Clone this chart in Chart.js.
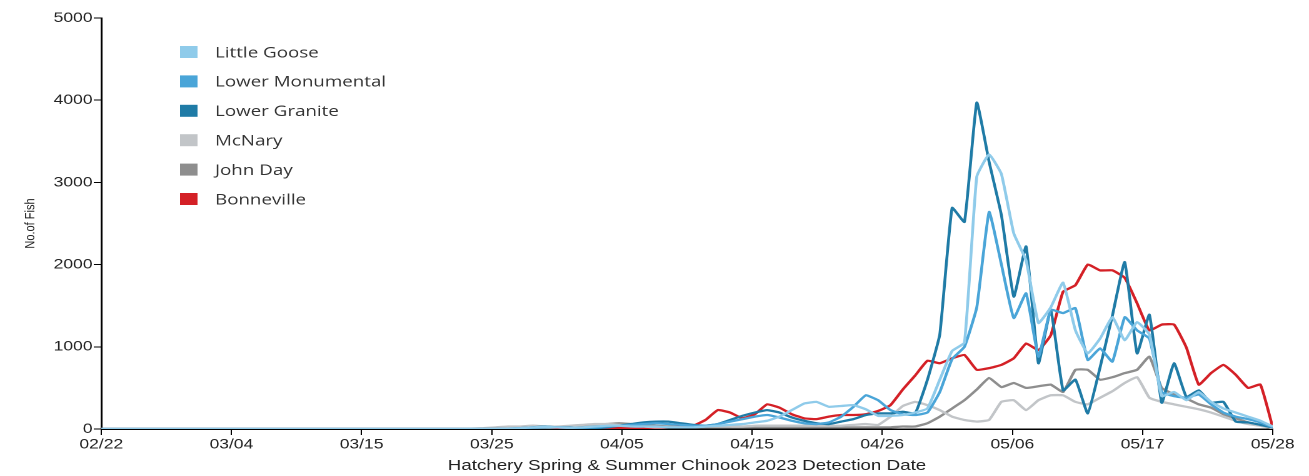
<!DOCTYPE html>
<html>
<head>
<meta charset="utf-8">
<title>Hatchery Spring &amp; Summer Chinook 2023</title>
<script src="https://cdn.jsdelivr.net/npm/chart.js@4.4.0/dist/chart.umd.min.js"></script>
<style>
    html, body { margin: 0; padding: 0; background: #fff; overflow: hidden; }
    /* the source picture is stretched sideways, so the chart is drawn narrow and widened */
    #wrap { width: 1047px; height: 476px; transform: scaleX(1.2502); transform-origin: 0 0; }
</style>
</head>
<body>
<div id="wrap"><canvas id="chinookChart" width="1047" height="476"></canvas></div>
<script>
// days since 02/22/2023, one value per day up to 05/28
const tickLabels = ['02/22', '03/04', '03/15', '03/25', '04/05', '04/15', '04/26', '05/06', '05/17', '05/28'];
const lastDay = 95;

const seriesNames = ['Little Goose', 'Lower Monumental', 'Lower Granite', 'McNary', 'John Day', 'Bonneville'];
const seriesColors = ['#8fcbea', '#4aa5d8', '#1f7ba6', '#c2c5c8', '#8e8e8e', '#d42026'];

const littleGoose = [
    0, 0, 0, 0, 0, 0, 0, 0, 0, 0,
    0, 0, 0, 0, 0, 0, 0, 0, 0, 0,
    0, 0, 0, 0, 0, 0, 0, 0, 0, 0,
    0, 0, 0, 5, 10, 20, 25, 20, 15, 20,
    30, 40, 40, 30, 30, 30, 20, 20, 20, 30,
    40, 50, 60, 80, 100, 150, 230, 310, 330, 270,
    280, 290, 240, 160, 160, 170, 200, 250, 600, 950,
    1050, 3070, 3340, 3100, 2380, 2050, 1290, 1480, 1780, 1200,
    920, 1100, 1360, 1080, 1300, 1150, 400, 450, 350, 450,
    330, 250, 200, 150, 100, 30
];
const lowerMonumental = [
    0, 0, 0, 0, 0, 0, 0, 0, 0, 0,
    0, 0, 0, 0, 0, 0, 0, 0, 0, 0,
    0, 0, 0, 0, 0, 0, 0, 0, 0, 0,
    0, 0, 0, 5, 10, 15, 20, 20, 15, 15,
    20, 30, 40, 50, 60, 70, 60, 50, 40, 40,
    60, 90, 120, 150, 170, 140, 100, 70, 60, 80,
    150, 270, 410, 350, 230, 180, 170, 200, 450, 850,
    1000, 1480, 2640, 2000, 1350, 1650, 880, 1450, 1410, 1470,
    840, 980, 820, 1360, 1200, 1100, 450, 400, 380, 420,
    300, 200, 150, 120, 80, 20
];
const lowerGranite = [
    0, 0, 0, 0, 0, 0, 0, 0, 0, 0,
    0, 0, 0, 0, 0, 0, 0, 0, 0, 0,
    0, 0, 0, 0, 0, 0, 0, 0, 0, 0,
    0, 0, 0, 0, 10, 20, 30, 20, 20, 10,
    10, 20, 40, 60, 80, 90, 90, 70, 50, 40,
    60, 110, 160, 200, 230, 200, 140, 100, 70, 60,
    90, 120, 170, 190, 190, 210, 190, 600, 1150, 2690,
    2520, 3970, 3250, 2600, 1610, 2220, 800, 1450, 470, 600,
    190, 750, 1380, 2030, 920, 1390, 320, 800, 390, 470,
    320, 330, 90, 80, 50, 20
];
const mcNary = [
    0, 0, 0, 0, 0, 0, 0, 0, 0, 0,
    0, 0, 0, 0, 0, 0, 0, 0, 0, 0,
    0, 0, 0, 0, 0, 0, 0, 0, 0, 0,
    5, 10, 20, 30, 30, 40, 30, 30, 40, 50,
    60, 60, 50, 40, 30, 20, 20, 20, 20, 30,
    30, 30, 30, 40, 40, 40, 40, 40, 40, 40,
    40, 50, 60, 50, 150, 280, 330, 290, 230, 150,
    110, 90, 110, 330, 350, 230, 350, 410, 410, 330,
    300, 380, 460, 560, 630, 380, 330, 300, 270, 240,
    200, 150, 100, 60, 40, 10
];
const johnDay = [
    0, 0, 0, 0, 0, 0, 0, 0, 0, 0,
    0, 0, 0, 0, 0, 0, 0, 0, 0, 0,
    0, 0, 0, 0, 0, 0, 0, 0, 0, 0,
    0, 0, 0, 0, 0, 0, 10, 20, 30, 40,
    50, 60, 70, 60, 50, 40, 30, 20, 20, 20,
    20, 20, 20, 20, 20, 20, 20, 20, 20, 20,
    20, 20, 20, 20, 20, 30, 30, 70, 150, 250,
    350, 480, 620, 510, 560, 500, 520, 540, 450, 720,
    720, 600, 630, 680, 720, 880, 500, 420, 370, 300,
    260, 180, 130, 80, 50, 10
];
const bonneville = [
    0, 0, 0, 0, 0, 0, 0, 0, 0, 0,
    0, 0, 0, 0, 0, 0, 0, 0, 0, 0,
    0, 0, 0, 0, 0, 0, 0, 0, 0, 0,
    0, 0, 0, 0, 0, 0, 0, 5, 10, 10,
    10, 10, 10, 10, 10, 10, 20, 30, 40, 110,
    230, 200, 130, 180, 300, 260, 180, 130, 120, 150,
    170, 170, 180, 220, 290, 480, 650, 830, 800, 860,
    900, 720, 740, 780, 860, 1040, 960, 1140, 1670, 1750,
    2000, 1930, 1930, 1840, 1530, 1200, 1270, 1270, 990, 540,
    680, 780, 660, 500, 540, 20
];

const seriesValues = [littleGoose, lowerMonumental, lowerGranite, mcNary, johnDay, bonneville];

const datasets = seriesValues.map((values, i) => ({
    label: seriesNames[i],
    data: values.map((v, day) => ({ x: day, y: v })),
    borderColor: seriesColors[i],
    backgroundColor: seriesColors[i],
    borderWidth: 2.3,
    pointRadius: 0,
    tension: 0.12,
    fill: false
}));

// legend sits inside the plot, top left
const boxLegend = {
    id: 'boxLegend',
    afterDraw(chart) {
        const ctx = chart.ctx;
        ctx.save();
        ctx.font = '15px "Open Sans"';
        ctx.textBaseline = 'middle';
        seriesNames.forEach((name, i) => {
            const y = 52 + i * 29.4;
            ctx.fillStyle = seriesColors[i];
            ctx.fillRect(144, y - 6, 14, 12);
            ctx.fillStyle = '#333';
            ctx.fillText(name, 172, y + 1);
        });
        ctx.restore();
    }
};

const tickFont = { family: '"Liberation Sans", Arial, sans-serif', size: 14 };

new Chart(document.getElementById('chinookChart'), {
    type: 'line',
    data: { datasets },
    plugins: [boxLegend],
    options: {
        responsive: false,
        animation: false,
        devicePixelRatio: 2,
        layout: { padding: { top: 18, right: 29, left: 0, bottom: 0 } },
        plugins: { legend: { display: false }, tooltip: { enabled: false } },
        scales: {
            x: {
                type: 'linear',
                min: 0,
                max: lastDay,
                afterBuildTicks: scale => {
                    scale.ticks = tickLabels.map((t, i) => ({ value: i * lastDay / (tickLabels.length - 1) }));
                },
                afterFit: scale => { scale.height = 47; },
                ticks: {
                    autoSkip: false,
                    maxRotation: 0,
                    padding: 1,
                    color: '#222',
                    font: tickFont,
                    callback: (value, index) => tickLabels[index]
                },
                grid: { drawOnChartArea: false, tickLength: 6, color: '#000' },
                border: { color: '#000', width: 1.5 },
                title: {
                    display: true,
                    text: 'Hatchery Spring & Summer Chinook 2023 Detection Date',
                    color: '#222',
                    font: { family: '"Liberation Sans", Arial, sans-serif', size: 15 },
                    padding: { top: 0, bottom: 1 }
                }
            },
            y: {
                min: 0,
                max: 5000,
                afterFit: scale => { scale.width = 81; },
                ticks: {
                    stepSize: 1000,
                    padding: 1,
                    color: '#222',
                    font: tickFont,
                    callback: value => String(value)
                },
                grid: { drawOnChartArea: false, tickLength: 6, color: '#000' },
                border: { color: '#000', width: 1.5 },
                title: {
                    display: true,
                    text: 'No.of Fish',
                    color: '#222',
                    font: { family: '"Liberation Sans", Arial, sans-serif', size: 11 },
                    padding: { top: 18, bottom: 0 }
                }
            }
        }
    }
});
</script>
</body>
</html>
